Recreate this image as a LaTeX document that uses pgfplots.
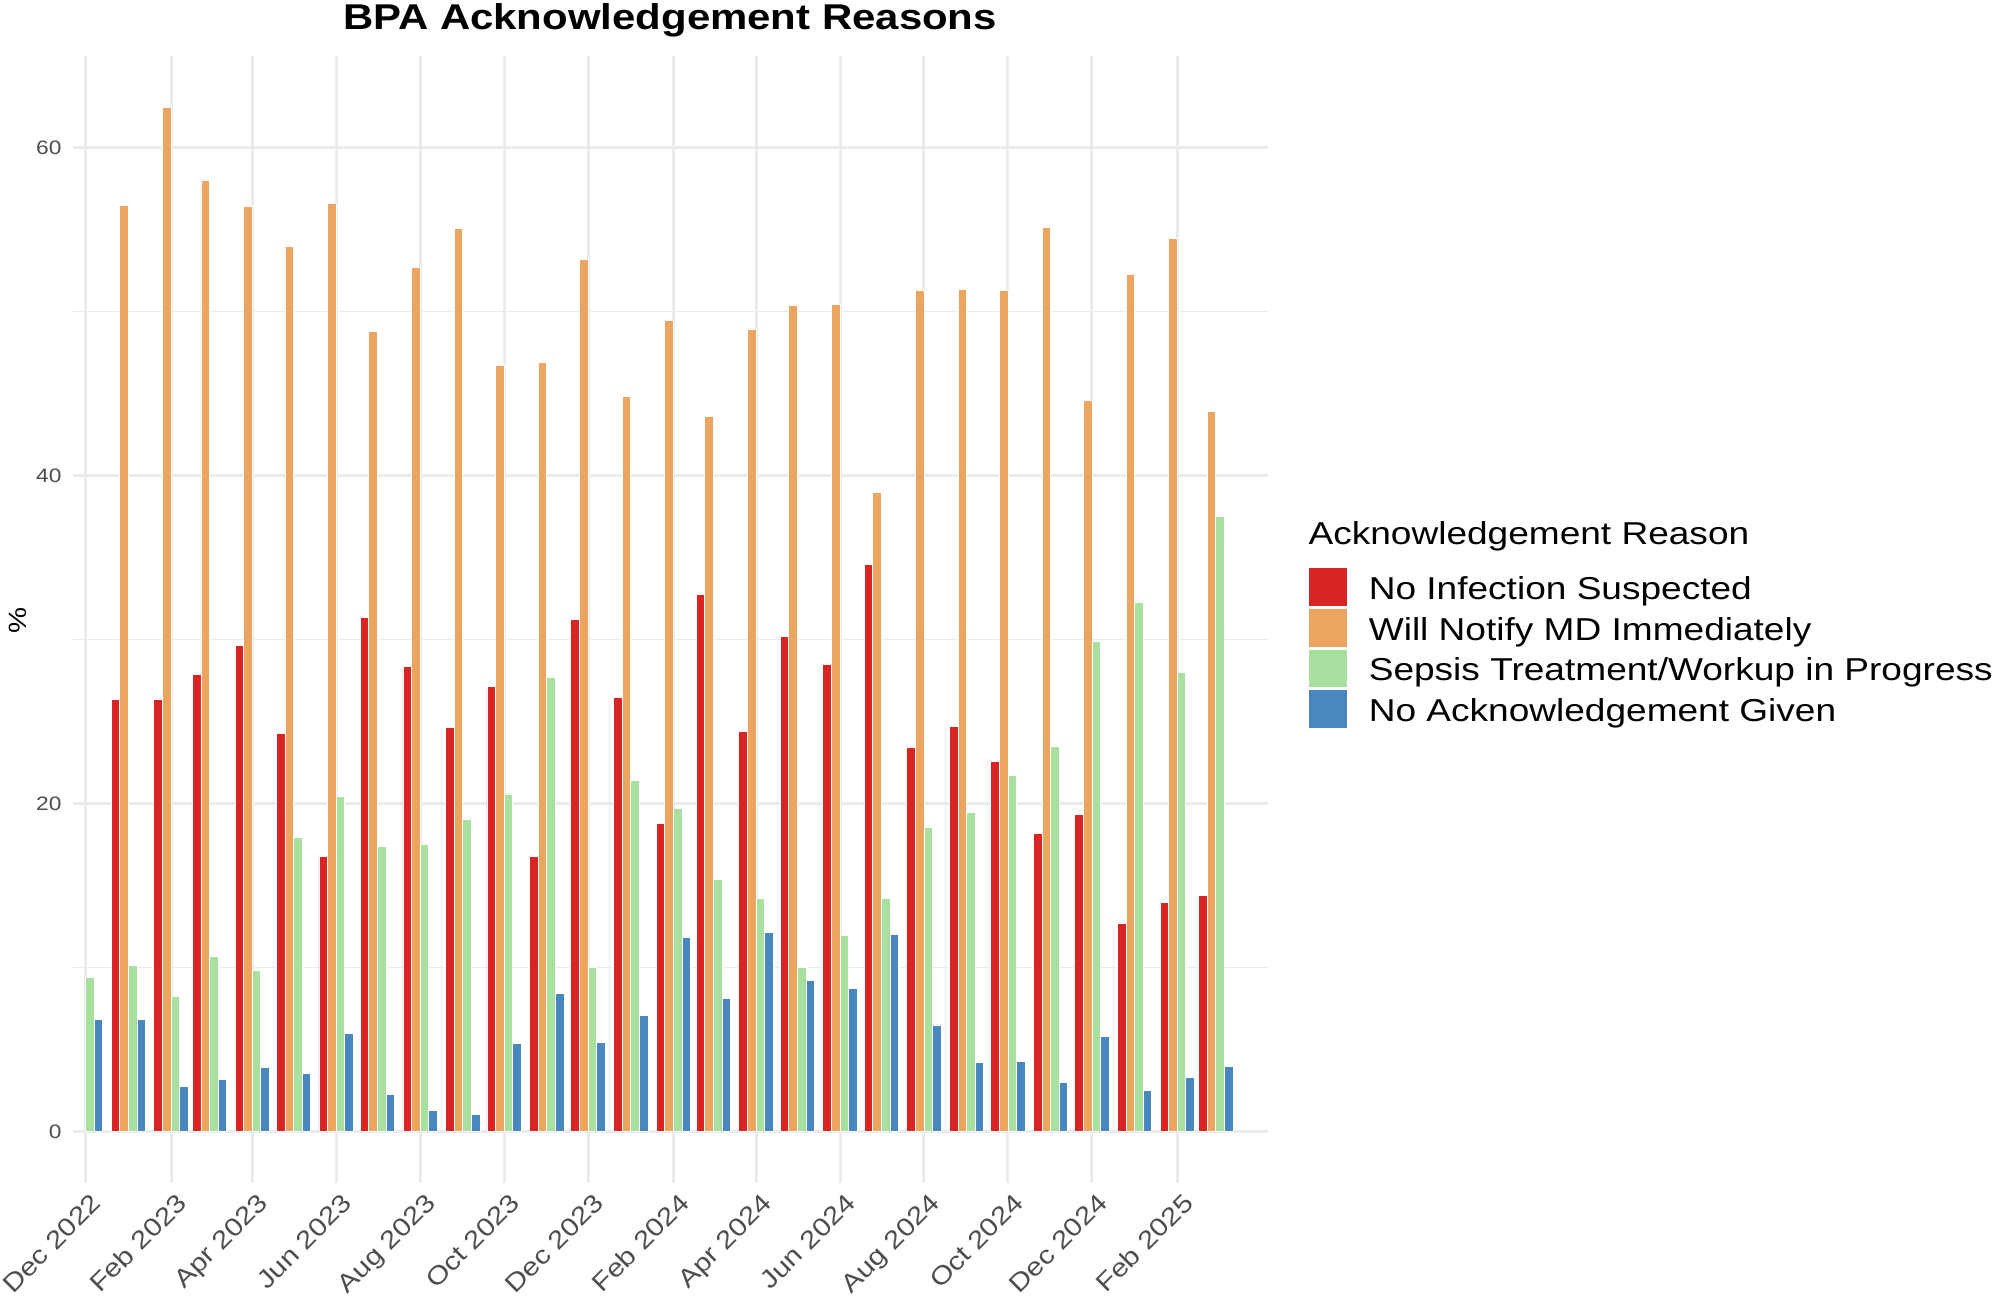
\documentclass[border=0pt]{standalone}
\usepackage{fontspec}
\setmainfont{Liberation Sans}[FakeStretch=1.17]
\usepackage{pgfplots}
\usepackage{pgfplotstable}
\pgfplotsset{compat=1.18}

\definecolor{cRed}{HTML}{D92424}
\definecolor{cOrange}{HTML}{EBA55F}
\definecolor{cGreen}{HTML}{A8E0A0}
\definecolor{cBlue}{HTML}{4A87BF}
\definecolor{gridc}{HTML}{EBEBEB}
\definecolor{tickc}{HTML}{4D4D4D}

% day = days since 1 Dec 2022 (month start)
\pgfplotstableread{
day red orange green blue
0   nan   nan   9.43  6.86
31  26.34 56.46 10.14 6.86
62  26.34 62.46 8.27  2.77
90  27.90 58.02 10.70 3.18
121 29.67 56.41 9.84  3.94
151 24.27 53.99 17.96 3.58
182 16.80 56.61 20.43 6.00
212 31.33 48.79 17.41 2.27
243 28.36 52.67 17.51 1.31
274 24.62 55.05 19.02 1.06
304 27.14 46.72 20.59 5.40
335 16.80 46.92 27.70 8.43
365 31.23 53.18 10.04 5.45
396 26.49 44.80 21.39 7.11
427 18.77 49.44 19.73 11.86
456 32.74 43.59 15.39 8.12
487 24.42 48.94 14.23 12.16
517 30.17 50.35 10.04 9.23
548 28.51 50.45 11.96 8.73
578 34.56 38.95 14.23 12.01
609 23.46 51.31 18.57 6.51
640 24.72 51.36 19.48 4.24
670 22.55 51.26 21.70 4.29
701 18.21 55.10 23.51 3.03
731 19.32 44.60 29.92 5.80
762 12.71 52.27 32.24 2.52
793 13.98 54.44 28.00 3.33
821 14.43 43.89 37.49 3.99
}\datatable

\begin{document}
\begin{tikzpicture}
\useasboundingbox (0,0) rectangle (720pt,467.64pt);
\begin{axis}[
  at={(26.28pt,41.76pt)}, anchor=south west,
  scale only axis, width=430.2pt, height=405.72pt,
  xmin=-9.2, xmax=858.9, ymin=-3.123, ymax=65.58,
  axis line style={draw=none},
  major tick length=0pt, minor tick length=0pt,
  xtick={0,62,121,182,243,304,365,427,487,548,609,670,731,793},
  xticklabels={Dec 2022,Feb 2023,Apr 2023,Jun 2023,Aug 2023,Oct 2023,Dec 2023,Feb 2024,Apr 2024,Jun 2024,Aug 2024,Oct 2024,Dec 2024,Feb 2025},
  ytick={0,20,40,60}, minor ytick={10,30,50},
  xmajorgrids, ymajorgrids, yminorgrids,
  major grid style={gridc, line width=1.08pt},
  minor grid style={gridc, line width=0.54pt},
  /pgf/number format/assume math mode=true,
  yticklabel style={font=\fontsize{7}{8}\selectfont, color=tickc, anchor=east, inner sep=0pt, xshift=-3.96pt},
  xticklabel style={font=\fontsize{9.1}{11}\selectfont, color=tickc, inner sep=0pt, xshift=1.6pt, yshift=-3.0pt, rotate=45, anchor=north east},
  legend style={at={(1.0346,0.54525)}, anchor=north west, draw=none, fill=none,
    inner sep=0pt, outer sep=0pt, row sep=1.1pt, column sep=7.9pt,
    font=\fontsize{11.4}{13}\selectfont,
    nodes={inner sep=0pt, outer sep=0pt, text height=7pt, text depth=0pt}, cells={anchor=west}},
  legend image code/.code={\path[#1, draw=none] (0pt,-5.85pt) rectangle (13.5pt,7.65pt);},
]
\addplot[ybar, bar width=6.25, bar shift=-9.375, fill=cRed, draw=white, line width=0.3pt] table[x=day, y=red] {\datatable};
\addlegendentry{No Infection Suspected}
\addplot[ybar, bar width=6.25, bar shift=-3.125, fill=cOrange, draw=white, line width=0.3pt] table[x=day, y=orange] {\datatable};
\addlegendentry{Will Notify MD Immediately}
\addplot[ybar, bar width=6.25, bar shift=3.125, fill=cGreen, draw=white, line width=0.3pt] table[x=day, y=green] {\datatable};
\addlegendentry{Sepsis Treatment/Workup in Progress}
\addplot[ybar, bar width=6.25, bar shift=9.375, fill=cBlue, draw=white, line width=0.3pt] table[x=day, y=blue] {\datatable};
\addlegendentry{No Acknowledgement Given}
\end{axis}
\node[anchor=base, font=\bfseries\fontsize{12.9}{14}\selectfont] at (241.2pt,457.1pt) {BPA Acknowledgement Reasons};
\node[anchor=base west, inner sep=0pt, font=\fontsize{11.4}{13}\selectfont] at (470.88pt,271.44pt) {Acknowledgement Reason};
\node[rotate=90, inner sep=0pt, font=\fontsize{9}{10}\selectfont] at (6.3pt,244.4pt) {\%};
\end{tikzpicture}
\end{document}
